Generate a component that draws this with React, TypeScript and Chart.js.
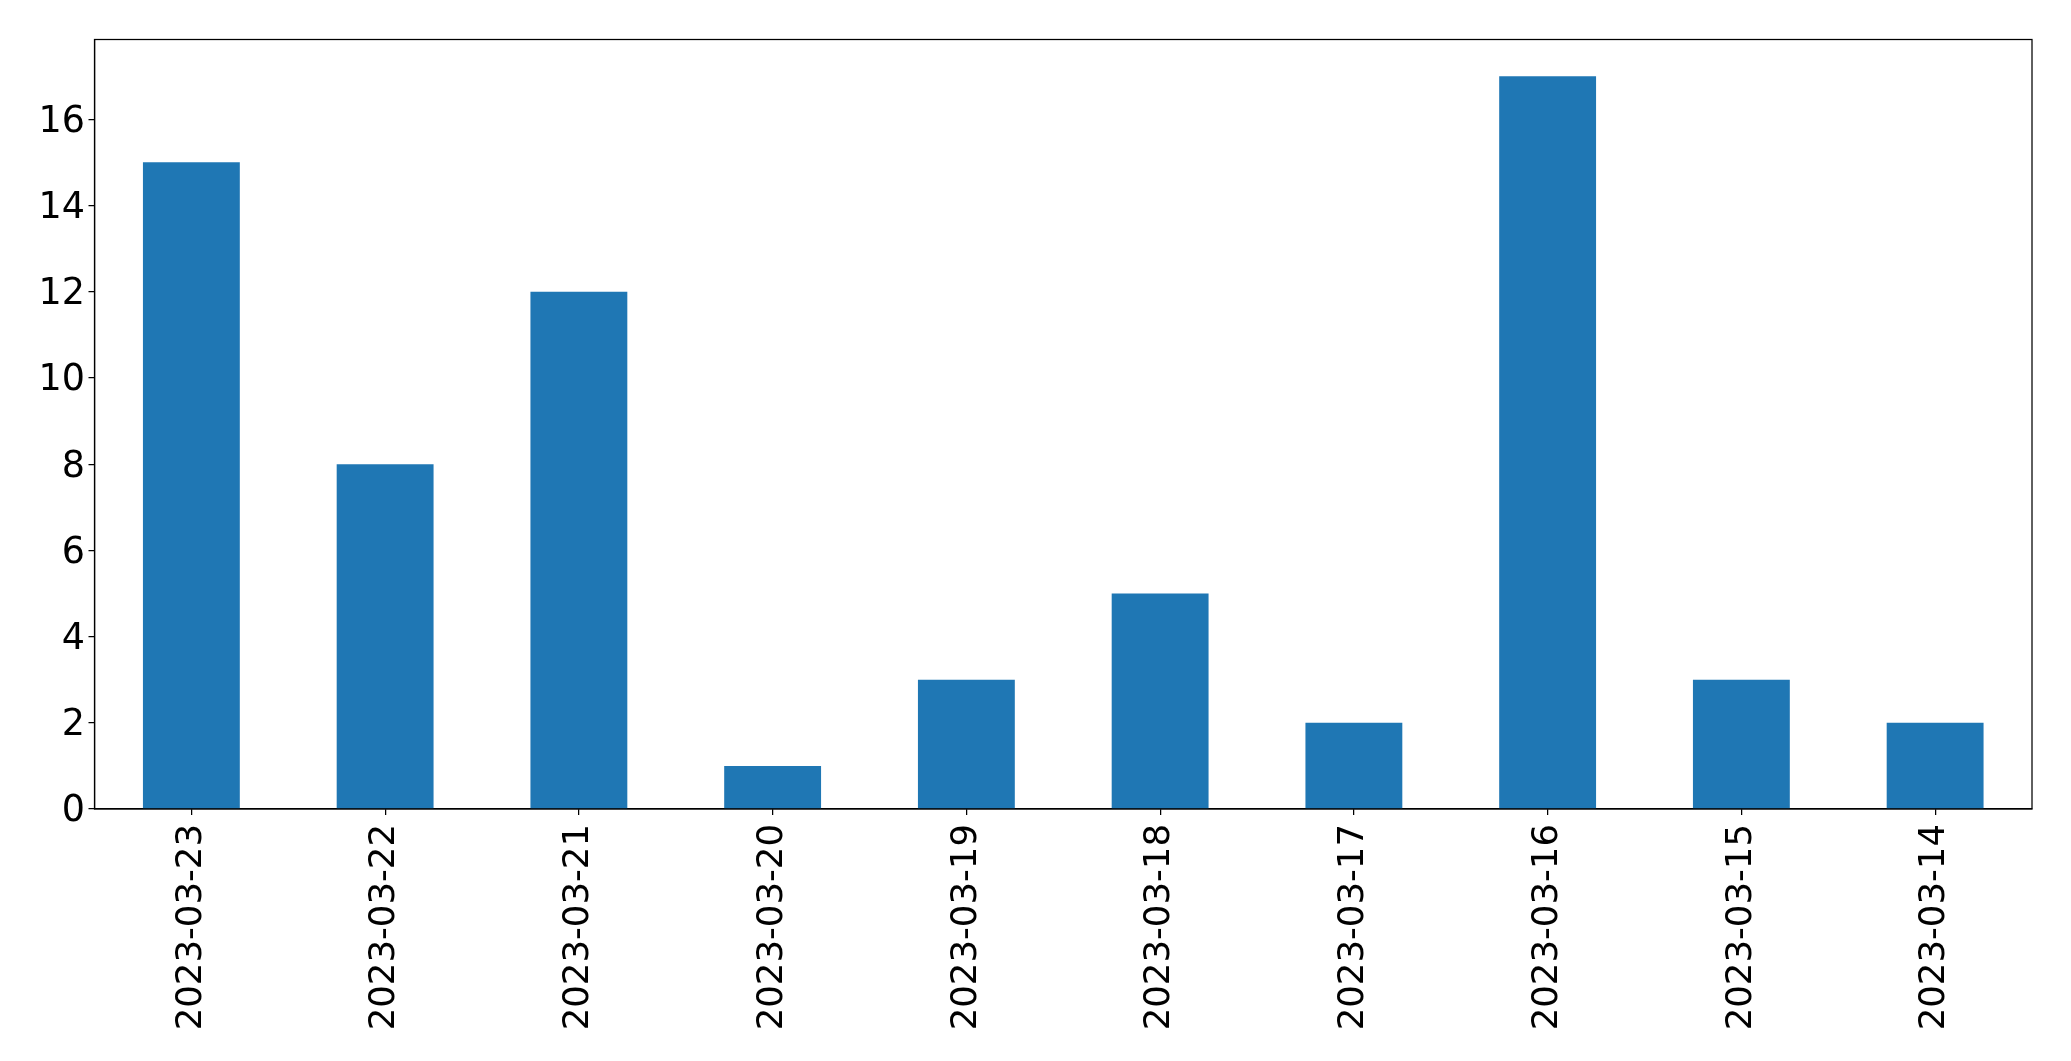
import React, { useEffect, useRef } from "react";
import { Chart, registerables } from "chart.js";

Chart.register(...registerables);

const categories = [
  "2023-03-23",
  "2023-03-22",
  "2023-03-21",
  "2023-03-20",
  "2023-03-19",
  "2023-03-18",
  "2023-03-17",
  "2023-03-16",
  "2023-03-15",
  "2023-03-14",
];
const counts = [15, 8, 12, 1, 3, 5, 2, 17, 3, 2];
const yTicks = [0, 2, 4, 6, 8, 10, 12, 14, 16];

const frame = {
  id: "frame",
  afterDraw(chart: any) {
    const { ctx, chartArea } = chart;
    ctx.save();
    ctx.strokeStyle = "#000";
    ctx.lineWidth = 1.25;
    ctx.strokeRect(chartArea.left, chartArea.top, chartArea.right - chartArea.left, chartArea.bottom - chartArea.top);
    ctx.restore();
  },
};

export default function App() {
  const ref = useRef<HTMLCanvasElement>(null);
  useEffect(() => {
    const chart = new Chart(ref.current!, {
      type: "bar",
      data: {
        labels: categories,
        datasets: [
          {
            data: counts,
            backgroundColor: "#1f77b4",
            barPercentage: 0.5,
            categoryPercentage: 1,
          },
        ],
      },
      options: {
        animation: false,
        responsive: false,
        layout: { padding: { left: 0, top: 39.5, right: 39, bottom: 0 } },
        plugins: { legend: { display: false }, tooltip: { enabled: false } },
        scales: {
          x: {
            offset: true,
            grid: { display: true, offset: false, drawOnChartArea: false, drawTicks: true, tickLength: 6, color: "#000", lineWidth: 1.25 },
            border: { display: true, color: "#000", width: 1.25 },
            ticks: {
              color: "#000",
              font: { family: "'DejaVu Sans', sans-serif", size: 35.5 },
              minRotation: 90,
              maxRotation: 90,
              padding: 9,
              autoSkip: false,
            },
            afterFit(scale: any) {
              scale.height = 252;
            },
          },
          y: {
            min: 0,
            max: 17.85,
            grid: { display: true, drawOnChartArea: false, drawTicks: true, tickLength: 6, color: "#000", lineWidth: 1.25 },
            border: { display: true, color: "#000", width: 1.25 },
            ticks: {
              color: "#000",
              font: { family: "'DejaVu Sans', sans-serif", size: 36.5, lineHeight: "6px" },
              padding: 3.5,
              stepSize: 2,
              includeBounds: false,
              callback: (v: any) => ["", String(v)],
            },
            afterBuildTicks(scale: any) {
              scale.ticks = yTicks.map((v) => ({ value: v }));
            },
            afterFit(scale: any) {
              scale.width = 94.5;
            },
          },
        },
      },
      plugins: [frame],
    });
    return () => chart.destroy();
  }, []);
  return (
    <div style={{ position: "absolute", left: 0, top: 0, width: 2071, height: 1061, background: "#fff" }}>
      <canvas ref={ref} width={2071} height={1061} style={{ width: 2071, height: 1061 }} />
    </div>
  );
}
